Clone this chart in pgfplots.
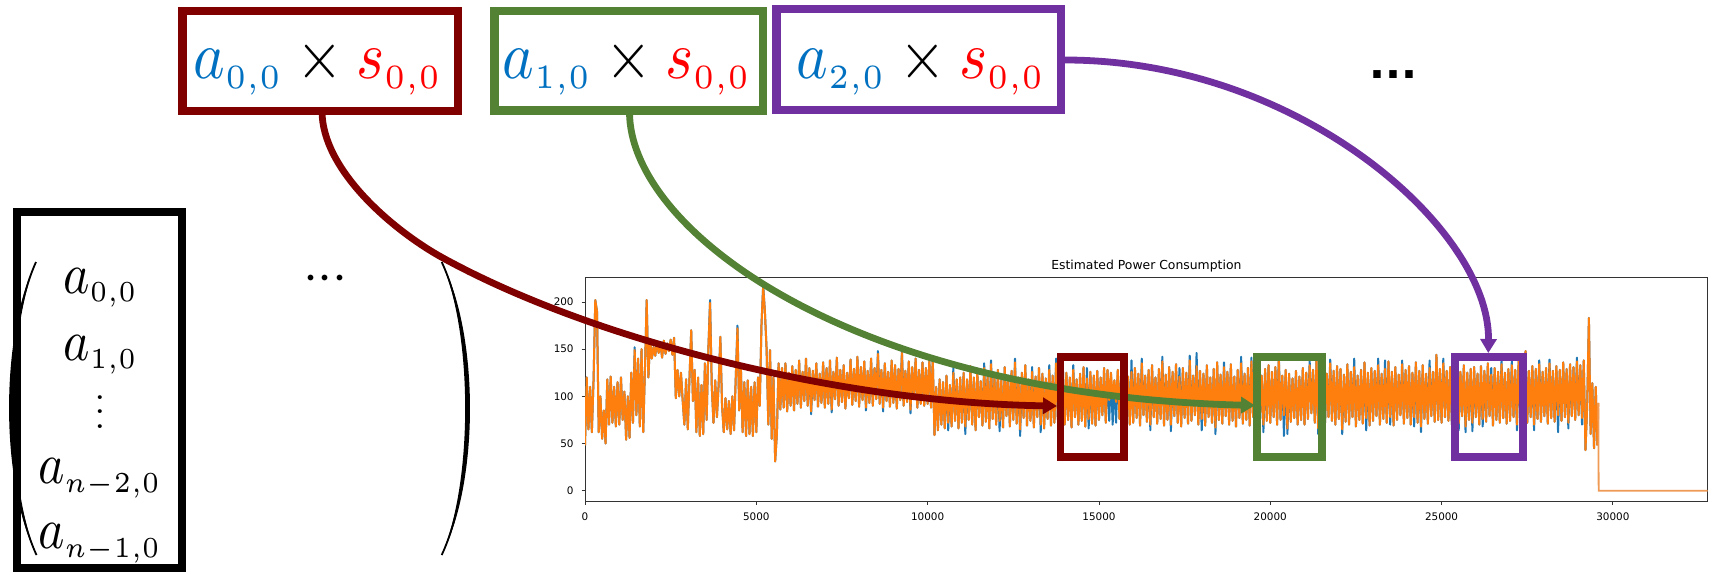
\documentclass[border=0pt]{standalone}
\usepackage{fontspec}
\setmainfont{DejaVu Sans}
\usepackage{graphicx}
\usepackage{pgfplots}
\pgfplotsset{compat=1.18}
\usepackage{pgfplotstable}
\usetikzlibrary{arrows.meta}
\definecolor{mplblue}{HTML}{1F77B4}
\definecolor{mplorange}{HTML}{FF7F0E}
\definecolor{lorange}{RGB}{240,155,85}
\definecolor{dred}{HTML}{800000}
\definecolor{dgreen}{HTML}{548235}
\definecolor{dpurple}{HTML}{7030A0}
\definecolor{tblue}{HTML}{0070C0}
\definecolor{tred}{HTML}{FF0000}

\pgfplotstableread[row sep=\\,header=false]{
48\\120\\65\\110\\62\\118\\202\\190\\62\\100\\55\\85\\50\\118\\70\\121\\72\\110\\68\\115\\
70\\120\\75\\105\\54\\100\\56\\125\\72\\149\\80\\140\\68\\150\\62\\130\\202\\120\\160\\140\\
152\\143\\158\\146\\157\\141\\159\\145\\156\\148\\160\\144\\162\\98\\128\\100\\125\\96\\70\\118\\
65\\120\\170\\95\\128\\62\\120\\58\\112\\60\\135\\75\\150\\199\\110\\72\\117\\78\\112\\163\\
90\\62\\98\\65\\95\\60\\100\\64\\120\\172\\85\\130\\62\\115\\58\\117\\60\\110\\58\\115\\
62\\120\\90\\175\\216\\190\\150\\70\\149\\55\\120\\31\\60\\135\\86\\130\\88\\135\\84\\125\\
90\\132\\85\\128\\92\\138\\88\\126\\95\\140\\90\\130\\84\\127\\96\\135\\89\\124\\93\\136\\
88\\130\\92\\138\\86\\126\\97\\141\\90\\128\\94\\133\\87\\125\\98\\139\\91\\129\\95\\142\\
89\\131\\96\\137\\88\\127\\93\\140\\90\\130\\97\\145\\92\\128\\88\\135\\95\\126\\89\\138\\
93\\133\\87\\129\\96\\146\\90\\127\\94\\137\\86\\131\\97\\140\\88\\128\\92\\136\\90\\130\\
92\\138\\88\\140\\59\\110\\64\\118\\70\\115\\66\\122\\72\\112\\68\\125\\74\\118\\66\\120\\
72\\125\\68\\118\\75\\132\\70\\120\\64\\126\\78\\116\\69\\130\\73\\121\\66\\134\\76\\119\\
70\\128\\74\\117\\67\\131\\79\\122\\68\\127\\75\\136\\71\\120\\65\\125\\77\\133\\69\\118\\
74\\126\\67\\121\\78\\130\\70\\124\\66\\119\\76\\128\\69\\122\\72\\135\\75\\118\\68\\127\\
70\\125\\75\\120\\67\\128\\78\\118\\70\\124\\74\\131\\68\\119\\76\\126\\71\\122\\69\\127\\
75\\120\\80\\130\\72\\128\\96\\125\\98\\117\\94\\128\\76\\123\\68\\132\\74\\121\\70\\126\\
72\\130\\77\\124\\69\\135\\80\\122\\73\\128\\70\\133\\78\\120\\71\\129\\76\\137\\69\\123\\
75\\131\\70\\126\\79\\134\\72\\121\\68\\130\\77\\125\\71\\138\\74\\122\\80\\132\\70\\127\\
76\\124\\69\\133\\78\\120\\72\\129\\67\\136\\75\\123\\71\\131\\79\\126\\70\\134\\74\\121\\
68\\128\\77\\135\\71\\124\\75\\130\\69\\137\\78\\125\\72\\132\\76\\122\\70\\129\\74\\133\\
72\\126\\78\\131\\70\\140\\75\\122\\80\\128\\66\\124\\73\\119\\77\\127\\70\\121\\75\\130\\
70\\125\\76\\133\\82\\128\\72\\138\\66\\126\\80\\131\\72\\124\\78\\135\\74\\127\\70\\132\\
76\\129\\65\\123\\73\\134\\70\\126\\78\\131\\68\\122\\75\\128\\71\\136\\77\\125\\69\\130\\
74\\127\\79\\133\\70\\124\\76\\129\\72\\137\\78\\126\\69\\131\\75\\123\\80\\134\\71\\128\\
77\\132\\70\\125\\78\\136\\72\\127\\68\\133\\76\\124\\71\\130\\79\\126\\73\\144\\75\\129\\
72\\135\\78\\127\\74\\131\\70\\124\\77\\130\\71\\126\\79\\133\\68\\125\\75\\129\\72\\131\\
78\\124\\70\\132\\76\\127\\73\\135\\79\\123\\69\\130\\75\\126\\72\\134\\77\\125\\71\\129\\
74\\133\\78\\128\\70\\140\\76\\125\\80\\148\\72\\127\\78\\132\\70\\129\\76\\134\\73\\126\\
79\\130\\71\\135\\77\\127\\73\\132\\80\\128\\74\\136\\78\\129\\72\\134\\79\\131\\75\\137\\
80\\133\\77\\138\\43\\90\\183\\60\\114\\45\\110\\48\\
}\orangetab

\pgfplotstableread[row sep=\\,header=false]{
48\\120\\65\\110\\62\\118\\202\\190\\62\\100\\55\\85\\50\\118\\70\\121\\72\\110\\68\\115\\
70\\120\\75\\105\\54\\100\\56\\125\\72\\152\\80\\140\\68\\150\\62\\130\\202\\120\\160\\140\\
152\\143\\158\\146\\157\\141\\159\\145\\156\\148\\160\\144\\162\\98\\128\\100\\125\\96\\70\\118\\
65\\120\\170\\95\\128\\62\\120\\58\\112\\60\\135\\75\\150\\202\\110\\72\\117\\78\\112\\163\\
90\\62\\98\\65\\95\\60\\100\\64\\120\\175\\85\\130\\62\\115\\58\\117\\60\\110\\58\\115\\
62\\120\\90\\175\\218\\190\\150\\70\\149\\55\\120\\31\\60\\135\\86\\130\\88\\135\\84\\125\\
90\\132\\85\\128\\92\\138\\88\\126\\95\\140\\90\\130\\81\\127\\96\\135\\89\\124\\93\\136\\
88\\130\\92\\138\\83\\126\\97\\141\\90\\128\\94\\133\\87\\125\\98\\139\\91\\129\\95\\142\\
89\\131\\96\\137\\85\\127\\93\\140\\90\\130\\97\\148\\92\\128\\84\\135\\95\\126\\89\\138\\
93\\133\\87\\129\\96\\149\\90\\127\\94\\137\\82\\131\\97\\140\\88\\128\\92\\136\\90\\130\\
92\\138\\88\\140\\59\\110\\64\\118\\70\\115\\66\\122\\64\\112\\68\\130\\74\\118\\66\\120\\
72\\125\\60\\118\\75\\132\\70\\120\\64\\126\\78\\116\\69\\135\\73\\121\\66\\138\\76\\119\\
70\\128\\63\\117\\67\\131\\79\\122\\68\\127\\75\\140\\71\\120\\58\\125\\77\\133\\69\\118\\
74\\131\\67\\121\\78\\130\\62\\124\\66\\119\\76\\133\\69\\122\\72\\140\\75\\118\\68\\127\\
70\\125\\75\\120\\67\\133\\78\\118\\70\\124\\74\\131\\68\\130\\66\\126\\71\\122\\69\\127\\
75\\120\\80\\130\\72\\128\\74\\125\\70\\117\\72\\128\\76\\123\\68\\132\\74\\121\\70\\138\\
72\\130\\77\\124\\69\\140\\80\\122\\73\\128\\64\\133\\78\\120\\71\\129\\76\\142\\69\\123\\
75\\131\\63\\126\\79\\134\\72\\130\\68\\130\\77\\125\\71\\143\\74\\122\\80\\146\\70\\127\\
64\\124\\69\\133\\78\\120\\72\\129\\60\\136\\75\\123\\71\\136\\79\\126\\70\\134\\74\\121\\
68\\128\\77\\142\\71\\124\\75\\130\\69\\141\\78\\125\\72\\132\\76\\122\\62\\129\\74\\133\\
72\\126\\78\\131\\70\\143\\75\\122\\58\\128\\60\\124\\73\\119\\77\\127\\70\\121\\75\\130\\
70\\125\\76\\138\\82\\128\\72\\138\\60\\126\\80\\131\\72\\124\\78\\139\\74\\127\\70\\132\\
76\\129\\60\\123\\73\\134\\70\\126\\78\\140\\68\\122\\75\\128\\71\\136\\64\\125\\69\\130\\
74\\127\\79\\140\\70\\124\\76\\138\\72\\137\\70\\126\\69\\131\\75\\123\\80\\138\\71\\128\\
77\\132\\70\\125\\68\\136\\72\\127\\62\\133\\76\\124\\71\\138\\79\\126\\73\\144\\75\\129\\
72\\140\\78\\127\\74\\131\\70\\124\\77\\136\\64\\126\\79\\133\\62\\125\\75\\129\\63\\131\\
78\\124\\70\\132\\68\\127\\73\\135\\79\\130\\69\\130\\75\\126\\72\\138\\77\\125\\71\\129\\
74\\138\\78\\128\\64\\140\\76\\125\\80\\148\\72\\127\\78\\132\\64\\129\\76\\138\\73\\126\\
79\\130\\71\\139\\77\\127\\73\\132\\62\\128\\74\\136\\78\\129\\66\\134\\79\\131\\75\\141\\
80\\133\\70\\138\\43\\90\\183\\60\\114\\45\\110\\48\\
}\bluetab

\newcommand{\vdotsbox}{\vbox{\baselineskip=4pt\lineskiplimit=0pt\hbox{$.$}\hbox{$.$}\hbox{$.$}}}

\begin{document}
\begin{tikzpicture}
\useasboundingbox (0,0) rectangle (855.5pt,-286pt);
\clip (0,0) rectangle (855.5pt,-286pt);
\begin{axis}[
  at={(292.5pt,-138.5pt)}, anchor=north west,
  width=561.35pt, height=112.2pt, scale only axis,
  xmin=0, xmax=32768, ymin=-11.3, ymax=226.4,
  xtick={0,5000,10000,15000,20000,25000,30000},
  ytick={0,50,100,150,200},
  scaled x ticks=false,
  /pgf/number format/1000 sep={},
  /pgf/number format/assume math mode=true,
  tick label style={font=\fontsize{5.2}{6}\selectfont, inner sep=0pt},
  xticklabel style={anchor=base, yshift=-7.8pt},
  yticklabel style={anchor=east, xshift=-3.85pt},
  tick align=outside, tick pos=left, major tick length=1.65pt,
  axis line style={line width=0.4pt, black!80},
  every tick/.style={black!80, line width=0.4pt},
  title={Estimated Power Consumption},
  every axis title/.style={font=\fontsize{6.2}{7}\selectfont, at={(0.5,1)}, anchor=base, yshift=3.8pt, inner sep=0pt},
]
\addplot[mplblue, line width=1pt, line join=round, no marks] table[x expr=\coordindex*50, y index=0] {\bluetab};
\addplot[mplorange, line width=1pt, line join=round, no marks] table[x expr=\coordindex*50, y index=0] {\orangetab};
\addplot[mplorange, line width=1pt, no marks] coordinates {(29550,48) (29575,93)};
\addplot[lorange, line width=0.9pt, no marks] coordinates {(29575,93) (29585,0) (32768,0)};
\end{axis}

\begin{scope}[x=0.5pt,y=-0.5pt]
% arrows
\draw[dred, line width=3.4pt, -{Triangle[length=7pt,width=8pt]}] (322,111) .. controls (322,170) and (393,230.5) .. (443,258) .. controls (600,344) and (850,403) .. (1057,406);
\draw[dgreen, line width=3.4pt, -{Triangle[length=7pt,width=8pt]}] (629.5,112) .. controls (629.5,230) and (850,395) .. (1255,405.5);
\draw[dpurple, line width=3.4pt, -{Triangle[length=7pt,width=8pt]}] (1065,60) .. controls (1300,60) and (1490,230) .. (1488.3,353);
% boxes on the plot
\draw[dred, line width=3.85pt] (1060.5,356.7) rectangle (1123.8,456.7);
\draw[dgreen, line width=3.85pt] (1257,356.7) rectangle (1322,456.7);
\draw[dpurple, line width=3.85pt] (1455.3,356.7) rectangle (1523,456.7);
% top boxes
\draw[dred, line width=4.15pt] (182.5,10.8) rectangle (458.3,110.8);
\draw[dgreen, line width=4.15pt] (494.5,10.8) rectangle (763,110.5);
\draw[dpurple, line width=4.15pt] (776.5,9.2) rectangle (1060.8,110);
\node[anchor=base, inner sep=0pt] at (318,78.3) {\scalebox{3.0}[3.4]{$\color{tblue}a_{\scriptscriptstyle 0,0}\color{black}\times\color{tred}s_{\scriptscriptstyle 0,0}$}};
\node[anchor=base, inner sep=0pt] at (627,78.3) {\scalebox{3.0}[3.4]{$\color{tblue}a_{\scriptscriptstyle 1,0}\color{black}\times\color{tred}s_{\scriptscriptstyle 0,0}$}};
\node[anchor=base, inner sep=0pt] at (921,78.3) {\scalebox{3.0}[3.4]{$\color{tblue}a_{\scriptscriptstyle 2,0}\color{black}\times\color{tred}s_{\scriptscriptstyle 0,0}$}};
\node[anchor=base, inner sep=0pt] at (1393.5,78.2) {\fontsize{21}{21}\selectfont\bfseries ...};
% matrix
\draw[black, line width=3.7pt] (17,212) rectangle (182,568);
\fill[black] (36,262) .. controls (0,335) and (0,482) .. (36.5,555) -- (36.5,555) .. controls (6,482) and (6,335) .. (36,262) -- cycle;
\draw[black, line width=0.9pt] (36,262) .. controls (3,335) and (3,482) .. (36.5,555);
\fill[black] (441.7,262) .. controls (479.4,335) and (479.4,482) .. (441.7,555) .. controls (473,482) and (473,335) .. (441.7,262) -- cycle;
\draw[black, line width=0.9pt] (441.7,262) .. controls (476,335) and (476,482) .. (441.7,555);
\node[anchor=base, inner sep=0pt] at (101,293.3) {\scalebox{2.5}[2.9]{$a_{\scriptscriptstyle 0,0}$}};
\node[anchor=base, inner sep=0pt] at (101,360) {\scalebox{2.5}[2.9]{$a_{\scriptscriptstyle 1,0}$}};
\node[anchor=base, inner sep=0pt] at (100,428) {\scalebox{1.9}[1.8]{\vdotsbox}};
\node[anchor=base, inner sep=0pt] at (100,483.3) {\scalebox{2.5}[2.9]{$a_{\scriptscriptstyle n-2,0}$}};
\node[anchor=base, inner sep=0pt] at (100,548.3) {\scalebox{2.5}[2.9]{$a_{\scriptscriptstyle n-1,0}$}};
\node[anchor=base, inner sep=0pt] at (325.5,291.8) {\scalebox{2.7}{$\mathord{\cdot}\mathord{\cdot}\mathord{\cdot}$}};
\end{scope}
\end{tikzpicture}
\end{document}
